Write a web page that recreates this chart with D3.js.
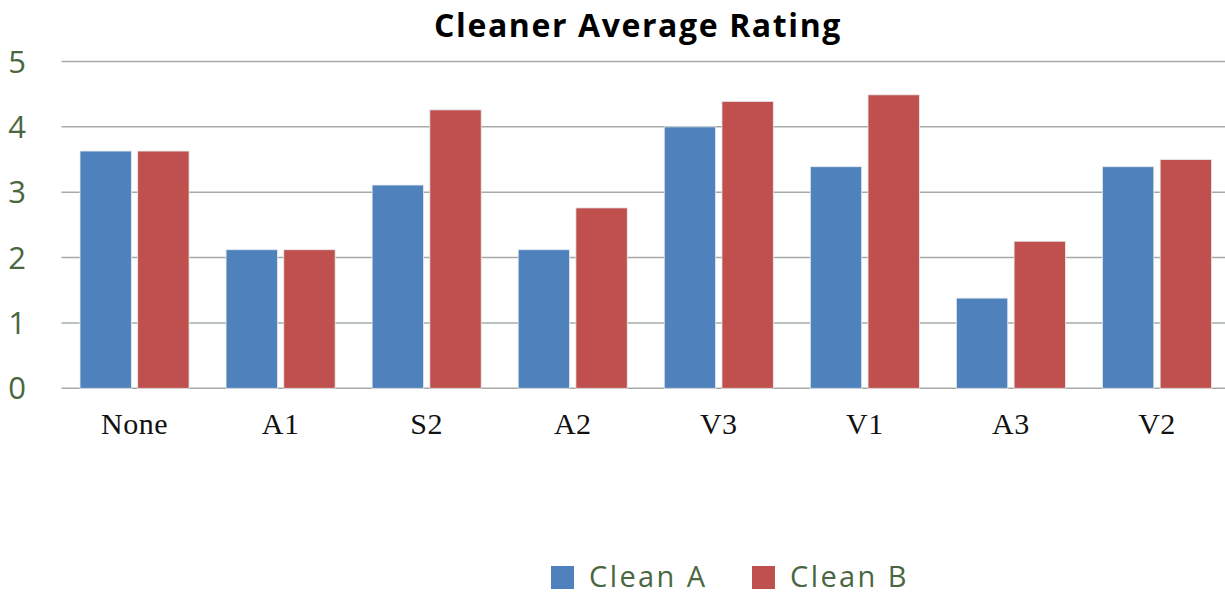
<!DOCTYPE html>
<html>
<head>
<meta charset="utf-8">
<script src="https://cdn.jsdelivr.net/npm/d3@7"></script>
<style>
  html, body { margin: 0; padding: 0; background: #fff; }
  svg { display: block; }
</style>
</head>
<body>
<div id="chart"></div>
<script>
// chart data
const categories = ['None', 'A1', 'S2', 'A2', 'V3', 'V1', 'A3', 'V2']
const seriesNames = ['Clean A', 'Clean B']
const cleanA = [3.63, 2.12, 3.11, 2.12, 4.0, 3.39, 1.38, 3.39]
const cleanB = [3.63, 2.12, 4.26, 2.76, 4.39, 4.49, 2.25, 3.50]
const yTicks = [0, 1, 2, 3, 4, 5]
const colors = ['#4f81bd', '#c0504d']

const W = 1225, H = 594
const plotLeft = 61.5, plotRight = 1230, plotTop = 61.5, plotBottom = 388.3
const textGreen = '#4a6741'

const svg = d3.select('#chart').append('svg').attr('width', W).attr('height', H)

const x = d3.scaleBand().domain(categories).range([plotLeft, plotRight]).paddingInner(0).paddingOuter(0)
const inner = d3.scaleBand().domain(seriesNames).range([18.5, x.bandwidth() - 18.5]).paddingInner(0.11)
const y = d3.scaleLinear().domain([0, 5]).range([plotBottom, plotTop])

// gridlines
svg.append('g').selectAll('line').data(yTicks).join('line')
  .attr('x1', plotLeft).attr('x2', W)
  .attr('y1', d => y(d)).attr('y2', d => y(d))
  .attr('stroke', '#a5aca5').attr('stroke-width', 1.5)

// y labels
svg.append('g').selectAll('text').data(yTicks).join('text')
  .attr('x', 17).attr('y', d => y(d) + 11)
  .attr('text-anchor', 'middle')
  .style('font-family', '"Open Sans", sans-serif')
  .style('font-size', '31px')
  .style('fill', textGreen)
  .text(d => d)

// bars
const rows = categories.map((c, i) => ({ cat: c, vals: [cleanA[i], cleanB[i]] }))
const groups = svg.append('g').selectAll('g').data(rows).join('g')
  .attr('transform', d => `translate(${x(d.cat)},0)`)
groups.selectAll('rect')
  .data(d => d.vals.map((v, j) => ({ name: seriesNames[j], v, j })))
  .join('rect')
  .attr('x', d => inner(d.name))
  .attr('width', inner.bandwidth())
  .attr('y', d => y(d.v))
  .attr('height', d => y(0) - y(d.v))
  .attr('fill', d => colors[d.j])
  .attr('stroke', '#e6ebf0').attr('stroke-width', 0.8)

// category labels
svg.append('g').selectAll('text').data(categories).join('text')
  .attr('x', d => x(d) + x.bandwidth() / 2)
  .attr('y', 434)
  .attr('text-anchor', 'middle')
  .style('font-family', '"Liberation Serif", "DejaVu Serif", serif')
  .style('font-size', '30px')
  .style('letter-spacing', '0.5px')
  .style('fill', '#111')
  .text(d => d)

// title
svg.append('text')
  .attr('x', 638).attr('y', 37)
  .attr('text-anchor', 'middle')
  .style('font-family', '"Open Sans", sans-serif')
  .style('font-weight', 'bold')
  .style('font-size', '32px')
  .style('letter-spacing', '1.6px')
  .style('fill', '#000')
  .text('Cleaner Average Rating')

// legend
const legendX = [551, 752]
const leg = svg.append('g').selectAll('g').data(seriesNames).join('g')
  .attr('transform', (d, i) => `translate(${legendX[i]},566)`)
leg.append('rect').attr('width', 23).attr('height', 23).attr('fill', (d, i) => colors[i])
leg.append('text')
  .attr('x', 38).attr('y', 21)
  .style('font-family', '"Open Sans", sans-serif')
  .style('font-size', '29px')
  .style('letter-spacing', '2.4px')
  .style('fill', textGreen)
  .text(d => d)
</script>
</body>
</html>
